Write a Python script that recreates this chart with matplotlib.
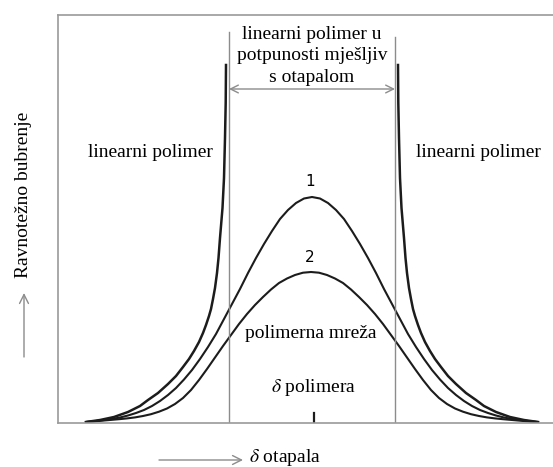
import matplotlib
matplotlib.use("Agg")
import matplotlib.pyplot as plt

plt.rcParams['font.family'] = ['Liberation Serif', 'DejaVu Serif']
plt.rcParams['mathtext.fontset'] = 'stix'

# ---- data (arbitrary units: x = solvent delta, y = equilibrium swelling) ----
# curve 1 (network, lower crosslink density)
x1 = [86, 96, 104, 112, 120, 128, 136, 144, 152, 160, 168, 176, 184, 192, 200,
      208, 216, 224, 232, 240, 248, 256, 264, 272, 280, 288, 296, 304, 312,
      320, 328, 336, 344, 352, 360, 368, 376, 384, 392, 400, 408, 416, 424,
      432, 440, 448, 456, 464, 472, 480, 488, 496, 504, 512, 520, 528, 538]
y1 = [1, 2, 3, 4, 5.5, 7.5, 10, 13, 17, 22, 28, 35, 43.5, 53, 64,
      76, 89, 104, 119, 134, 150, 165, 179, 192, 204, 213, 220, 224.5, 226,
      224.5, 220, 213, 204, 192, 179, 165, 150, 134, 119, 104, 89, 76, 64,
      53, 43.5, 35, 28, 22, 17, 13, 10, 7.5, 5.5, 4, 3, 2, 1]

# curve 2 (network, higher crosslink density)
x2 = [86, 95, 103, 111, 119, 127, 135, 143, 151, 159, 167, 175, 183, 191, 199,
      207, 215, 223, 231, 239, 247, 255, 263, 271, 279, 287, 295, 303, 311,
      319, 327, 335, 343, 351, 359, 367, 375, 383, 391, 399, 407, 415, 423,
      431, 439, 447, 455, 463, 471, 479, 487, 495, 503, 511, 519, 527, 536]
y2 = [1, 1.7, 2.4, 3.1, 3.8, 4.6, 5.6, 7, 8.8, 11.3, 14.5, 19, 25, 33, 43,
      54, 65.5, 77, 88, 99, 109, 118, 126, 133.5, 140, 144.5, 148, 150.3, 151,
      150.3, 148, 144.5, 140, 133.5, 126, 118, 109, 99, 88, 77, 65.5, 54, 43,
      33, 25, 19, 14.5, 11.3, 8.8, 7, 5.6, 4.6, 3.8, 3.1, 2.4, 1.7, 1]

# linear polymer, left and right branches
xl_left = [86, 100, 114, 128, 140, 148, 158, 168, 176, 183, 189, 194, 199, 203,
           206, 209, 211, 213, 215, 217, 218.5, 220, 221, 222.5, 224, 225, 225.7, 226]
yl_left = [1, 3, 6, 11, 17, 23, 30, 39, 47, 56, 64, 72, 81, 90,
           98, 107, 114, 124, 135, 150, 165, 185, 197, 215, 245, 285, 320, 358]
xl_right = [398, 398.3, 399, 400, 401.5, 403, 404, 405.5, 407, 409, 411, 413, 415,
            418, 421, 425, 430, 435, 441, 448, 456, 466, 476, 484, 496, 510, 524, 538]
yl_right = [358, 320, 285, 245, 215, 197, 185, 165, 150, 135, 124, 114, 107,
            98, 90, 81, 72, 64, 56, 47, 39, 30, 23, 17, 11, 6, 3, 1]

# miscibility limits and polymer delta
limits = [229, 395]
limit_tops = [391, 386]
delta_polymer = 314

# ---- figure ----
W, H = 553, 467
fig = plt.figure(figsize=(W / 100, H / 100), dpi=100)
ax = fig.add_axes([58 / W, (H - 423) / H, (W - 58) / W, (423 - 15) / H])
ax.set_xlim(58, 553)
ax.set_ylim(0, 408)
ax.set_xticks([])
ax.set_yticks([])
for s in ['left', 'top', 'bottom']:
    ax.spines[s].set_color('#9a9a9a')
    ax.spines[s].set_linewidth(1.2)
ax.spines['right'].set_visible(False)

dark = '#1c1c1c'
grey = '#8c8c8c'

ax.plot(x1, y1, color=dark, lw=1.5, solid_joinstyle='round')
ax.plot(x2, y2, color=dark, lw=1.5, solid_joinstyle='round')
ax.plot(xl_left, yl_left, color=dark, lw=1.8, solid_joinstyle='round')
ax.plot(xl_right, yl_right, color=dark, lw=1.8, solid_joinstyle='round')

for xv, top in zip(limits, limit_tops):
    ax.plot([xv, xv], [0, top], color=grey, lw=1.0)

ax.annotate('', xy=(limits[0], 334), xytext=(limits[1], 334),
            arrowprops=dict(arrowstyle='<->', color=grey, lw=1.0,
                            mutation_scale=14, shrinkA=0, shrinkB=0))

ax.plot([delta_polymer, delta_polymer], [0, 10], color=dark, lw=1.6)

fs = 14
ax.text(312, 367, 'linearni polimer u\npotpunosti mješljiv\ns otapalom',
        ha='center', va='center', fontsize=fs, linespacing=1.32)
ax.text(150, 270, 'linearni polimer', ha='center', va='center', fontsize=fs)
ax.text(478, 270, 'linearni polimer', ha='center', va='center', fontsize=fs)
ax.text(310, 241, '1', ha='center', va='center', fontsize=11, family='DejaVu Sans')
ax.text(310, 165, '2', ha='center', va='center', fontsize=11, family='DejaVu Sans')
ax.text(311, 89, 'polimerna mreža', ha='center', va='center', fontsize=fs)
ax.text(313, 35, r'$\delta$ polimera', ha='center', va='center', fontsize=fs)

# axis labels with arrows (outside the axes)
ax.text(285, -34, r'$\delta$ otapala', ha='center', va='center', fontsize=fs,
        clip_on=False)
ax.annotate('', xy=(243, -37), xytext=(159, -37), annotation_clip=False,
            arrowprops=dict(arrowstyle='->', color=grey, lw=1.0,
                            mutation_scale=16, shrinkA=0, shrinkB=0))
ax.text(24, 228, 'Ravnotežno bubrenje', rotation=90, ha='center', va='center',
        fontsize=fs, clip_on=False)
ax.annotate('', xy=(24, 130), xytext=(24, 66), annotation_clip=False,
            arrowprops=dict(arrowstyle='->', color=grey, lw=1.0,
                            mutation_scale=16, shrinkA=0, shrinkB=0))

fig.savefig('out.png', dpi=100, facecolor='white')
